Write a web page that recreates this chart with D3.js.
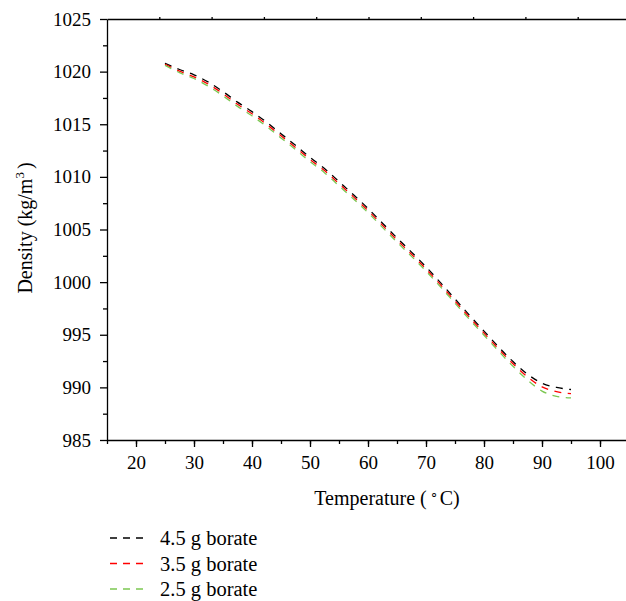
<!DOCTYPE html>
<html>
<head>
<meta charset="utf-8">
<script src="https://cdn.jsdelivr.net/npm/d3@7"></script>
<style>
  body { margin: 0; background: #fff; }
  svg, svg text { font-family: "Liberation Serif", "Times New Roman", serif !important; fill: #000; }
  .axis path, .axis line { stroke: #000; stroke-width: 1.3; }
</style>
</head>
<body>
<div id="chart"></div>
<script>
// Data
const temps = [25, 27.5, 30, 32.5, 35, 37.5, 40, 42.5, 45, 47.5, 50, 52.5, 55, 57.5, 60,
  62.5, 65, 67.5, 70, 72.5, 75, 77.5, 80, 82.5, 85, 87.5, 90, 92.5, 95];
const borate45 = [1020.8, 1020.2, 1019.7, 1019.0, 1018.1, 1017.1, 1016.2, 1015.2, 1014.1, 1013.0,
  1011.85, 1010.8, 1009.55, 1008.3, 1007.0, 1005.6, 1004.2, 1002.85, 1001.45, 999.95,
  998.4, 996.85, 995.35, 993.85, 992.45, 991.25, 990.4, 990.0, 989.8];
const borate35 = [1020.7, 1020.05, 1019.5, 1018.8, 1017.9, 1016.9, 1016.0, 1015.0, 1013.9, 1012.8,
  1011.65, 1010.6, 1009.35, 1008.1, 1006.8, 1005.4, 1004.0, 1002.65, 1001.25, 999.75,
  998.2, 996.65, 995.15, 993.65, 992.25, 991.0, 990.05, 989.6, 989.4];
const borate25 = [1020.6, 1019.9, 1019.35, 1018.6, 1017.7, 1016.7, 1015.8, 1014.8, 1013.7, 1012.6,
  1011.45, 1010.4, 1009.15, 1007.9, 1006.6, 1005.2, 1003.8, 1002.45, 1001.05, 999.55,
  998.0, 996.45, 994.95, 993.45, 992.0, 990.7, 989.65, 989.15, 989.0];
const seriesNames = ['4.5 g borate', '3.5 g borate', '2.5 g borate'];
const seriesColors = ['#000000', '#ff0000', '#7cc752'];
const xTicks = [20, 30, 40, 50, 60, 70, 80, 90, 100];
const yTicks = [985, 990, 995, 1000, 1005, 1010, 1015, 1020, 1025];

// plot frame
const W = 626, H = 601;
const box = { left: 107, right: 629, top: 19, bottom: 440 };
const serif = '"Liberation Serif", "Times New Roman", serif';

const svg = d3.select('#chart').append('svg')
  .attr('width', W).attr('height', H)
  .attr('font-family', serif);

const x = d3.scaleLinear().domain([15, 105]).range([box.left, box.right]);
const y = d3.scaleLinear().domain([985, 1025]).range([box.bottom, box.top]);

// minor ticks first
svg.append('g').attr('class', 'axis')
  .attr('transform', `translate(0,${box.bottom})`)
  .call(d3.axisBottom(x).tickValues(d3.range(15, 105, 5)).tickSize(4).tickFormat(''))
  .call(g => g.select('.domain').remove());
svg.append('g').attr('class', 'axis')
  .attr('transform', `translate(${box.left},0)`)
  .call(d3.axisLeft(y).tickValues(d3.range(987.5, 1025, 5)).tickSize(4).tickFormat(''))
  .call(g => g.select('.domain').remove());

// main axes
svg.append('g').attr('class', 'axis')
  .attr('transform', `translate(0,${box.bottom})`)
  .call(d3.axisBottom(x).tickValues(xTicks).tickSize(7).tickSizeOuter(0).tickPadding(8)
    .tickFormat(d3.format('d')))
  .call(g => g.attr('font-family', serif))
  .call(g => g.selectAll('text').attr('font-size', 19).attr('dy', '0.76em'));

svg.append('g').attr('class', 'axis')
  .attr('transform', `translate(${box.left},0)`)
  .call(d3.axisLeft(y).tickValues(yTicks).tickSize(7).tickSizeOuter(0).tickPadding(9)
    .tickFormat(d3.format('d')))
  .call(g => g.attr('font-family', serif))
  .call(g => g.selectAll('text').attr('font-size', 19));

// top frame line with tiny ticks
const xTop = d3.scaleLinear().domain([0, 10]).range([box.left, box.right + 1]);
svg.append('g').attr('class', 'axis')
  .attr('transform', `translate(0,${box.top})`)
  .call(d3.axisTop(xTop).tickValues(d3.range(1, 10)).tickSize(2).tickSizeOuter(0).tickFormat(''));

// curves
const allSeries = [borate45, borate35, borate25];
const line = d3.line()
  .x((d, i) => x(temps[i]))
  .y(d => y(d))
  .curve(d3.curveMonotoneX);

allSeries.forEach((s, k) => {
  svg.append('path')
    .datum(s)
    .attr('fill', 'none')
    .attr('stroke', seriesColors[k])
    .attr('stroke-width', 1.3)
    .attr('stroke-dasharray', '7,6.5')
    .attr('d', line);
});

// axis labels
svg.append('text')
  .attr('x', 387).attr('y', 505)
  .attr('text-anchor', 'middle')
  .attr('font-size', 20)
  .html('Temperature (<tspan dx="3" dy="-7" font-size="13">∘</tspan><tspan dx="2" dy="7">C)</tspan>');

svg.append('text')
  .attr('transform', 'translate(32,228) rotate(-90)')
  .attr('text-anchor', 'middle')
  .attr('font-size', 20)
  .html('Density (kg/m<tspan dy="-8" font-size="13">3</tspan><tspan dx="3" dy="8">)</tspan>');

// legend
const legend = svg.append('g');
seriesNames.forEach((name, k) => {
  const ly = 538 + k * 25.5;
  legend.append('line')
    .attr('x1', 110).attr('x2', 146)
    .attr('y1', ly).attr('y2', ly)
    .attr('stroke', seriesColors[k])
    .attr('stroke-width', 1.3)
    .attr('stroke-dasharray', '7,6');
  legend.append('text')
    .attr('x', 160).attr('y', ly)
    .attr('dy', '0.35em')
    .attr('font-size', 20.5)
    .text(name);
});
</script>
</body>
</html>
